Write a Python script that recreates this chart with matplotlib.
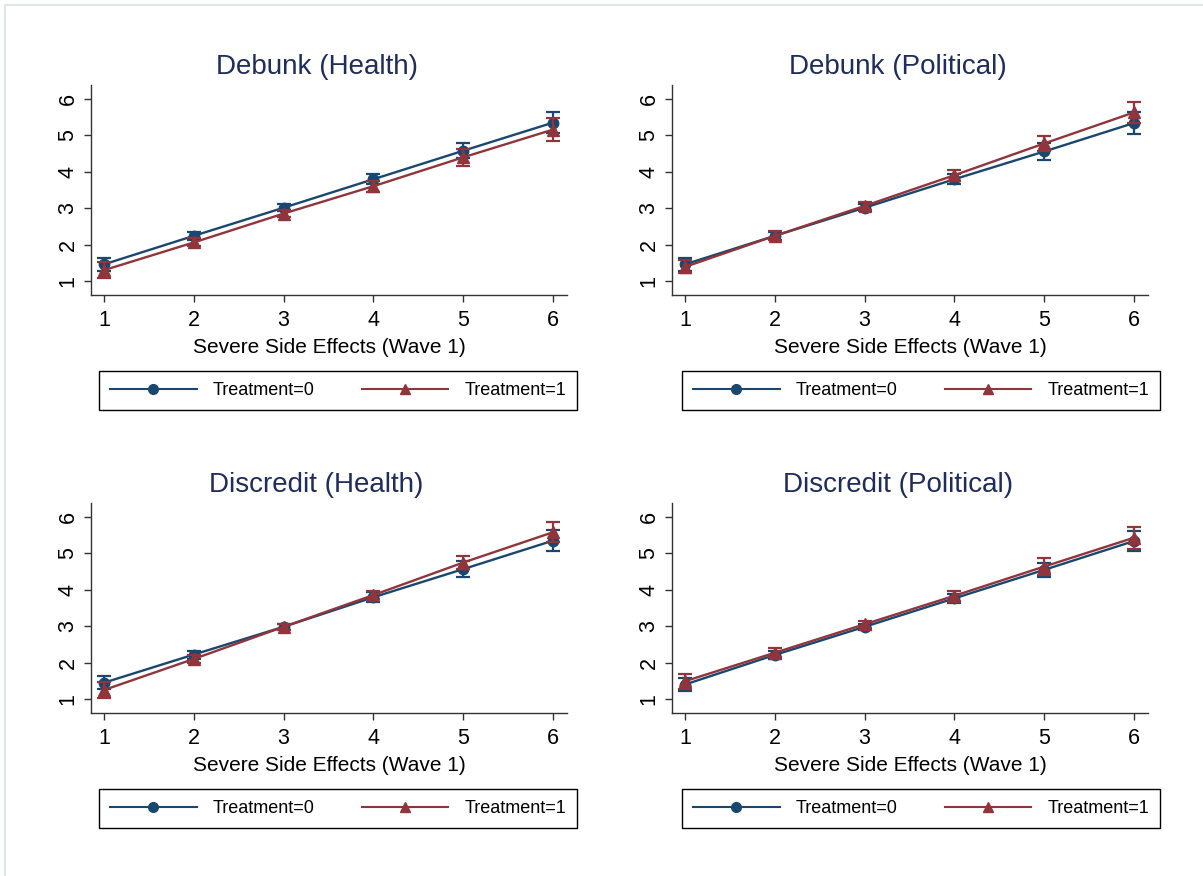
import matplotlib
matplotlib.use("Agg")
import matplotlib.pyplot as plt
from matplotlib.patches import Rectangle
from matplotlib.lines import Line2D

plt.rcParams['font.family'] = ['Liberation Sans', 'DejaVu Sans']

# valores
x_vals = [1, 2, 3, 4, 5, 6]
titulos = ["Debunk (Health)", "Debunk (Political)", "Discredit (Health)", "Discredit (Political)"]

t0_debunk_health = [1.46, 2.24, 3.01, 3.79, 4.57, 5.34]
t0_debunk_health_ci = [0.18, 0.11, 0.09, 0.13, 0.21, 0.29]
t1_debunk_health = [1.30, 2.06, 2.85, 3.60, 4.39, 5.15]
t1_debunk_health_ci = [0.21, 0.11, 0.09, 0.15, 0.24, 0.31]

t0_debunk_pol = [1.46, 2.24, 3.01, 3.79, 4.55, 5.33]
t0_debunk_pol_ci = [0.18, 0.11, 0.09, 0.13, 0.22, 0.29]
t1_debunk_pol = [1.39, 2.24, 3.06, 3.90, 4.77, 5.62]
t1_debunk_pol_ci = [0.18, 0.12, 0.10, 0.15, 0.21, 0.28]

t0_discredit_health = [1.45, 2.22, 2.98, 3.79, 4.56, 5.34]
t0_discredit_health_ci = [0.18, 0.11, 0.09, 0.13, 0.22, 0.29]
t1_discredit_health = [1.25, 2.10, 2.98, 3.85, 4.74, 5.57]
t1_discredit_health_ci = [0.23, 0.12, 0.08, 0.12, 0.19, 0.27]

t0_discredit_pol = [1.40, 2.21, 2.98, 3.76, 4.54, 5.33]
t0_discredit_pol_ci = [0.17, 0.11, 0.09, 0.13, 0.20, 0.27]
t1_discredit_pol = [1.49, 2.27, 3.05, 3.83, 4.63, 5.42]
t1_discredit_pol_ci = [0.21, 0.13, 0.10, 0.13, 0.23, 0.30]

series_t0 = [t0_debunk_health, t0_debunk_pol, t0_discredit_health, t0_discredit_pol]
ci_t0 = [t0_debunk_health_ci, t0_debunk_pol_ci, t0_discredit_health_ci, t0_discredit_pol_ci]
series_t1 = [t1_debunk_health, t1_debunk_pol, t1_discredit_health, t1_discredit_pol]
ci_t1 = [t1_debunk_health_ci, t1_debunk_pol_ci, t1_discredit_health_ci, t1_discredit_pol_ci]

azul = '#1a476f'
rojo = '#90353b'
color_titulo = '#1f2d5c'

W, H = 1203, 876
fig = plt.figure(figsize=(W / 100, H / 100), dpi=100)
fig.patch.set_facecolor('white')

# marco gris claro de la captura
fig.patches.append(Rectangle((5 / W, -0.1), 1.2, 1 - 5 / H + 0.1, transform=fig.transFigure,
                             fill=False, edgecolor='#dfe6e6', linewidth=1.5))

# posiciones en pixeles: (izq, arriba) del eje
posiciones = [(91, 85), (672, 85), (91, 503), (672, 503)]
leyendas = [(99, 370), (682, 370), (99, 788), (682, 788)]
ancho_px, alto_px = 476, 210

handles = [Line2D([], [], color=azul, marker='o', markersize=7, linewidth=1.5),
           Line2D([], [], color=rojo, marker='^', markersize=7, linewidth=1.5)]

for i in range(4):
    lx, ty = posiciones[i]
    ax = fig.add_axes([lx / W, 1 - (ty + alto_px) / H, ancho_px / W, alto_px / H])

    ax.errorbar(x_vals, series_t0[i], yerr=ci_t0[i], color=azul, marker='o', markersize=7.5,
                linewidth=1.7, capsize=5, elinewidth=1.6, capthick=1.6, zorder=3)
    ax.errorbar(x_vals, series_t1[i], yerr=ci_t1[i], color=rojo, marker='^', markersize=8,
                linewidth=1.7, capsize=5, elinewidth=1.6, capthick=1.6, zorder=4)

    ax.set_xlim(0.855, 6.155)
    ax.set_ylim(0.62, 6.37)
    ax.set_xticks(x_vals)
    ax.set_yticks([1, 2, 3, 4, 5, 6])
    for lab in ax.get_yticklabels():
        lab.set_rotation(90)
        lab.set_va('center')
    ax.tick_params(axis='both', labelsize=15.5, length=5, width=1, color='#333333', pad=5.5)
    ax.tick_params(axis='y', pad=4)
    for s in ['top', 'right']:
        ax.spines[s].set_visible(False)
    for s in ['left', 'bottom']:
        ax.spines[s].set_color('#333333')
        ax.spines[s].set_linewidth(1)

    ax.set_title(titulos[i], fontsize=20, color=color_titulo, x=0.474, pad=8)
    ax.set_xlabel('Severe Side Effects (Wave 1)', fontsize=15, labelpad=5.5)

    bx, by = leyendas[i]
    ax.legend(handles, ['Treatment=0', 'Treatment=1'], loc='center', ncol=2, mode='expand',
              fontsize=13, bbox_to_anchor=(bx / W, 1 - (by + 41) / H, 478 / W, 41 / H),
              bbox_transform=fig.transFigure, borderaxespad=0, handlelength=4.8,
              handletextpad=0.9, fancybox=False, edgecolor='black', framealpha=1,
              borderpad=0.6, columnspacing=2)
    ax.get_legend().get_frame().set_linewidth(1)

fig.savefig('out.png', dpi=100)
